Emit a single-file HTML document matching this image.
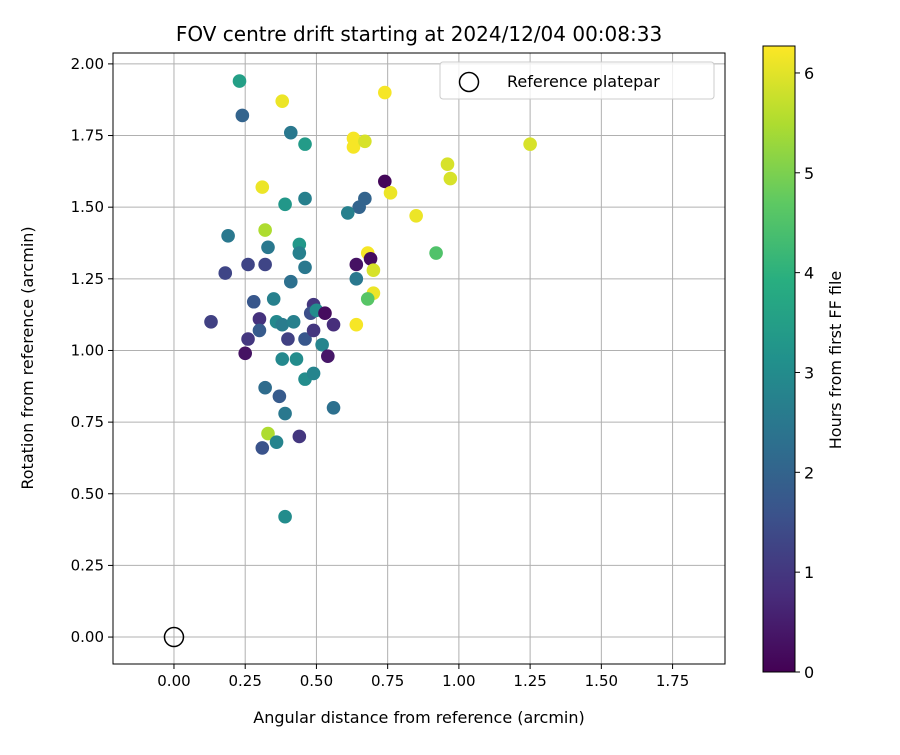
<!DOCTYPE html>
<html><head><meta charset="utf-8"><style>
body{margin:0;background:#fff;font-family:"Liberation Sans","DejaVu Sans",sans-serif}
</style></head><body>
<svg id="chart" width="900" height="750" xmlns="http://www.w3.org/2000/svg" font-family="'DejaVu Sans','Liberation Sans',sans-serif">
<defs><linearGradient id="vg" x1="0" y1="1" x2="0" y2="0">
<stop offset="0" stop-color="#440154"/><stop offset="0.125" stop-color="#472d7b"/><stop offset="0.25" stop-color="#3b528b"/><stop offset="0.375" stop-color="#2c728e"/><stop offset="0.5" stop-color="#21918c"/><stop offset="0.625" stop-color="#28ae80"/><stop offset="0.75" stop-color="#5ec962"/><stop offset="0.875" stop-color="#addc30"/><stop offset="1" stop-color="#fde725"/></linearGradient></defs>
<g id="grid"></g><g id="pts"></g><g id="axes"></g>
</svg>
<script>
const xs=[0.23,0.38,0.24,0.41,0.46,0.74,0.31,0.39,0.46,0.63,0.63,0.67,0.96,0.97,1.25,0.74,0.76,0.65,0.67,0.61,0.85,0.19,0.32,0.33,0.44,0.44,0.46,0.18,0.26,0.32,0.41,0.92,0.64,0.68,0.69,0.70,0.64,0.70,0.68,0.13,0.28,0.35,0.30,0.36,0.38,0.42,0.49,0.48,0.50,0.53,0.56,0.26,0.30,0.40,0.46,0.49,0.52,0.25,0.38,0.43,0.54,0.64,0.46,0.49,0.56,0.32,0.37,0.39,0.33,0.36,0.31,0.44,0.39];
const ys=[1.94,1.87,1.82,1.76,1.72,1.90,1.57,1.51,1.53,1.74,1.71,1.73,1.65,1.60,1.72,1.59,1.55,1.50,1.53,1.48,1.47,1.40,1.42,1.36,1.37,1.34,1.29,1.27,1.30,1.30,1.24,1.34,1.30,1.34,1.32,1.28,1.25,1.20,1.18,1.10,1.17,1.18,1.11,1.10,1.09,1.10,1.16,1.13,1.14,1.13,1.09,1.04,1.07,1.04,1.04,1.07,1.02,0.99,0.97,0.97,0.98,1.09,0.90,0.92,0.80,0.87,0.84,0.78,0.71,0.68,0.66,0.70,0.42];
const hours=[3.5,6.1,2.0,2.5,3.4,6.2,6.1,3.3,2.7,6.2,6.2,5.9,5.9,5.9,5.9,0.1,6.1,2.0,2.0,2.7,6.1,2.5,5.5,2.5,3.3,2.7,2.5,1.3,1.3,1.3,2.3,4.5,0.3,6.2,0.2,5.9,2.5,6.1,4.6,1.2,1.7,2.7,0.9,2.9,2.6,2.7,1.0,1.5,3.0,0.2,0.8,1.0,1.8,1.2,1.7,1.0,2.8,0.3,2.9,3.0,0.4,6.2,3.0,2.8,2.3,2.2,1.8,2.5,5.5,2.8,1.6,1.0,3.0];
const xTicks=[0,0.25,0.5,0.75,1,1.25,1.5,1.75];
const yTicks=[0,0.25,0.5,0.75,1,1.25,1.5,1.75,2];
const cTicks=[0,1,2,3,4,5,6];
const NS='http://www.w3.org/2000/svg';
const L=113,R=725,T=53,B=664,xmin=-0.214,xmax=1.934,ymin=-0.094,ymax=2.038,hmax=6.27;
const X=v=>L+(v-xmin)/(xmax-xmin)*(R-L);
const Y=v=>B-(v-ymin)/(ymax-ymin)*(B-T);
const CT=46,CB=672,CL=763,CR=795;
const CY=v=>CB-v/hmax*(CB-CT);
const vir=[[68,1,84],[71,45,123],[59,82,139],[44,114,142],[33,145,140],[40,174,128],[94,201,98],[173,220,48],[253,231,37]];
function col(h){let t=Math.max(0,Math.min(1,h/hmax))*8;let i=Math.min(7,Math.floor(t)),f=t-i;const a=vir[i],b=vir[i+1];return 'rgb('+a.map((c,k)=>Math.round(c+(b[k]-c)*f)).join(',')+')';}
function mk(p,tag,at,txt){const e=document.createElementNS(NS,tag);for(const k in at)e.setAttribute(k,at[k]);if(txt!==undefined)e.textContent=txt;p.appendChild(e);return e;}
const g=document.getElementById('grid'),pts=document.getElementById('pts'),ax=document.getElementById('axes');
xTicks.forEach(t=>{const e=mk(g,'line',{x1:X(t),x2:X(t),y1:T,y2:B,stroke:'#b0b0b0','stroke-width':1});


mk(ax,'line',{x1:X(t),x2:X(t),y1:B,y2:B+5,stroke:'#000'});
const l=mk(ax,'text',{x:X(t),y:B+22,'text-anchor':'middle','font-size':15},t.toFixed(2));

});
yTicks.forEach(t=>{const e=mk(g,'line',{x1:L,x2:R,y1:Y(t),y2:Y(t),stroke:'#b0b0b0','stroke-width':1});


mk(ax,'line',{x1:L-5,x2:L,y1:Y(t),y2:Y(t),stroke:'#000'});
const l=mk(ax,'text',{x:L-9,y:Y(t)+5,'text-anchor':'end','font-size':15},t.toFixed(2));

});
xs.forEach((x,i)=>{const c=mk(pts,'circle',{cx:X(x),cy:Y(ys[i]),r:6.8,fill:col(hours[i])});

});
const ref=mk(pts,'circle',{cx:X(0),cy:Y(0),r:9.5,fill:'none',stroke:'#000','stroke-width':1.5});


const fr=mk(ax,'rect',{x:L,y:T,width:R-L,height:B-T,fill:'none',stroke:'#000','stroke-width':1});


const lg=mk(ax,'g',{});


mk(lg,'rect',{x:440,y:62,width:274,height:37,rx:3,fill:'#fff','fill-opacity':0.8,stroke:'#ccc'});
mk(lg,'circle',{cx:469,cy:82,r:9.5,fill:'none',stroke:'#000','stroke-width':1.5});
mk(lg,'text',{x:507,y:87,'font-size':16},'Reference platepar');
const ti=mk(ax,'text',{x:419,y:41,'text-anchor':'middle','font-size':20},'FOV centre drift starting at 2024/12/04 00:08:33');


const xt=mk(ax,'text',{x:419,y:723,'text-anchor':'middle','font-size':16},'Angular distance from reference (arcmin)');


const yt=mk(ax,'text',{x:33,y:358,'text-anchor':'middle','font-size':16,transform:'rotate(-90 33 358)'},'Rotation from reference (arcmin)');


const cb=mk(ax,'rect',{x:CL,y:CT,width:CR-CL,height:CB-CT,fill:'url(#vg)',stroke:'#000'});


cTicks.forEach(t=>{mk(ax,'line',{x1:CR,x2:CR+5,y1:CY(t),y2:CY(t),stroke:'#000'});
const l=mk(ax,'text',{x:CR+9,y:CY(t)+6,'font-size':16},String(t));

});
const ct=mk(ax,'text',{x:841,y:360,'text-anchor':'middle','font-size':16,transform:'rotate(-90 841 360)'},'Hours from first FF file');


</script>
</body></html>
